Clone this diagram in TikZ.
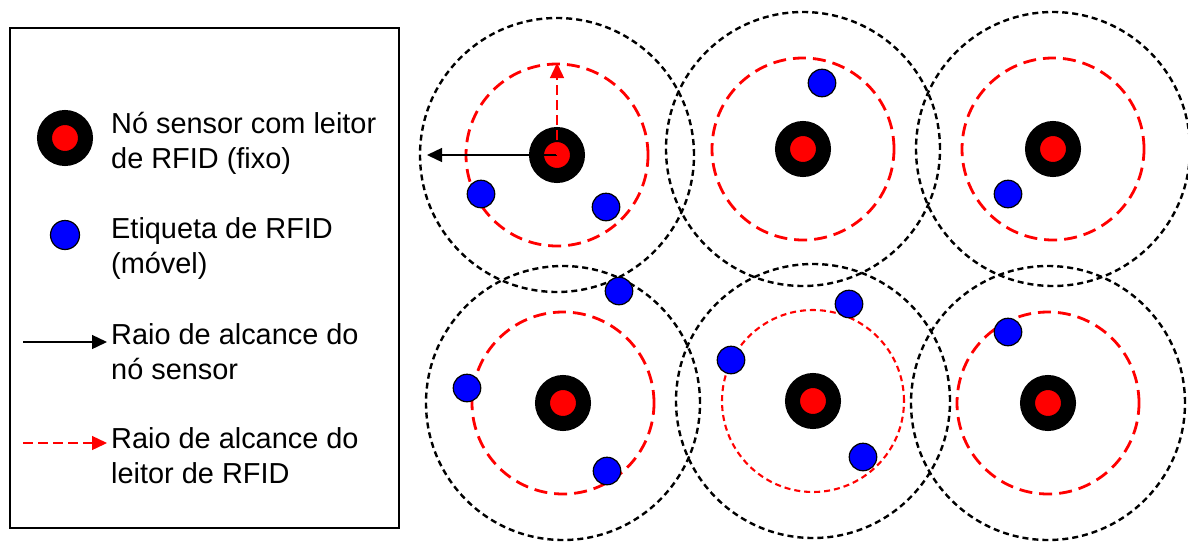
\documentclass[tikz,border=0pt]{standalone}
\usepackage{fontspec}
\setmainfont{Liberation Sans}
\usetikzlibrary{arrows.meta}
\begin{document}
\begin{tikzpicture}[x=1pt,y=-1pt,
 sensor/.style={circle, fill=red, draw=black, line width=15pt, minimum size=41pt, inner sep=0pt, outer sep=0pt},
 tag/.style={circle, fill=blue, draw=black, line width=1.2pt, minimum size=27.5pt, inner sep=0pt, outer sep=0pt},
 nodering/.style={draw=black, line width=2.4pt, dash pattern=on 6pt off 4pt},
 readerring/.style={draw=red, line width=2.8pt, dash pattern=on 13pt off 7pt},
 readerringfine/.style={draw=red, line width=2.1pt, dash pattern=on 6pt off 4pt},
 legendtext/.style={anchor=base west, align=left, inner sep=0pt, font=\fontsize{28.9}{35}\selectfont},
 noderay/.style={draw=black, line width=1.4pt, -{Triangle[length=15pt,width=14pt]}},
 readerray/.style={draw=red, line width=1.4pt, dash pattern=on 10pt off 5pt, -{Triangle[length=15pt,width=14pt]}},
 legendbox/.style={draw=black, line width=1.5pt}]
\useasboundingbox (0,0) rectangle (1188,541);
\fill[white] (0,0) rectangle (1188,541);

% legend
\draw[legendbox] (10,28) rectangle (399,528);
\node[sensor] (ls) at (65,138) {};
\node[tag, minimum size=29pt] (lt) at (65,235) {};
\coordinate (l1a) at (23,342);
\coordinate (l1b) at (107,342);
\coordinate (l2a) at (23,443);
\coordinate (l2b) at (107,443);
\draw[noderay] (l1a) -- (l1b);
\draw[readerray] (l2a) -- (l2b);
\node[legendtext] (t1) at (111,168) {Nó sensor com leitor\\de RFID (fixo)};
\node[legendtext] (t2) at (111,273) {Etiqueta de RFID\\(móvel)};
\node[legendtext] (t3) at (111,379) {Raio de alcance do\\nó sensor};
\node[legendtext] (t4) at (111,483) {Raio de alcance do\\leitor de RFID};

% sensor positions
\coordinate (c1) at (557,155);
\coordinate (c2) at (803,149);
\coordinate (c3) at (1053,149);
\coordinate (c4) at (563,403);
\coordinate (c5) at (813,401);
\coordinate (c6) at (1048,403);

% outer rings (sensor range)
\foreach \c in {c1,c2,c3,c4,c5,c6}
  \draw[nodering] (\c) circle[radius=137pt];
% reader rings
\foreach \c in {c1,c2,c3,c4,c6}
  \draw[readerring] (\c) circle[radius=91pt];
\draw[readerringfine] (c5) circle[radius=91pt];

% sensors
\node[sensor] (s1) at (c1) {};
\node[sensor] (s2) at (c2) {};
\node[sensor] (s3) at (c3) {};
\node[sensor] (s4) at (c4) {};
\node[sensor] (s5) at (c5) {};
\node[sensor] (s6) at (c6) {};

% range arrows
\coordinate (a1) at (427,155);
\coordinate (r1) at (557,63);
\draw[noderay] (s1.center) -- (a1);
\draw[readerray] (s1.center) -- (r1);

% tags
\node[tag] (g1) at (481,194) {};
\node[tag] (g2) at (606,207) {};
\node[tag] (g3) at (619,291) {};
\node[tag] (g4) at (822,83) {};
\node[tag] (g5) at (1008,194) {};
\node[tag] (g6) at (467,388) {};
\node[tag] (g7) at (607,471) {};
\node[tag] (g8) at (849,304) {};
\node[tag] (g9) at (731,360) {};
\node[tag] (g10) at (863,457) {};
\node[tag] (g11) at (1008,332) {};
\end{tikzpicture}
\end{document}
